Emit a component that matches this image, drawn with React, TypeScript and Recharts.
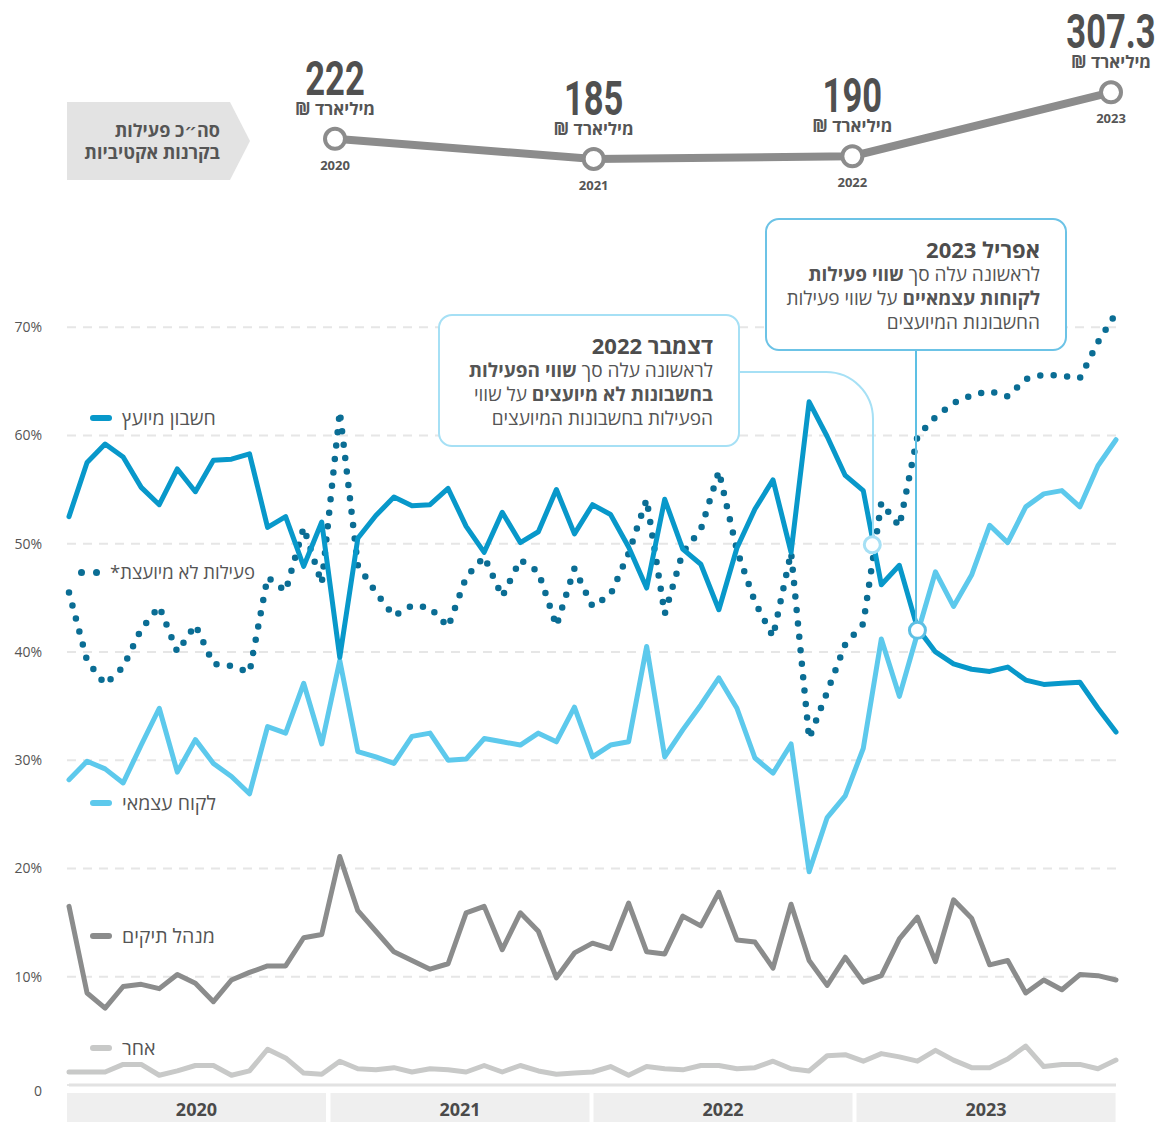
import React from 'react';
import { LineChart, Line, XAxis, YAxis, CartesianGrid, ReferenceDot } from 'recharts';

// share of activity by account type, one point per period
const advised = [52.5, 57.5, 59.2, 58.0, 55.2, 53.6, 56.9, 54.8, 57.7, 57.8, 58.3, 51.5, 52.5, 47.9, 52.0, 39.5, 50.5, 52.6, 54.3, 53.5, 53.6, 55.1, 51.6, 49.2, 52.9, 50.1, 51.1, 55.0, 50.9, 53.6, 52.7, 49.7, 45.9, 54.1, 49.5, 48.1, 43.9, 49.6, 53.2, 55.9, 49.2, 63.1, 59.9, 56.3, 54.9, 46.2, 48.0, 42.2, 40.0, 38.9, 38.4, 38.2, 38.6, 37.4, 37.0, 37.1, 37.2, 34.8, 32.6];
const nonAdvised = [45.5, 39.2, 37.0, 38.6, 42.1, 44.2, 40.0, 42.5, 38.9, 38.7, 38.1, 46.9, 45.6, 51.5, 46.3, 62.2, 48.0, 45.5, 43.3, 44.3, 44.1, 42.3, 46.9, 48.8, 45.1, 48.5, 47.4, 42.4, 47.7, 44.2, 45.3, 49.1, 54.1, 43.5, 49.2, 51.3, 56.7, 49.4, 44.6, 41.4, 49.2, 32.0, 36.3, 40.7, 42.6, 53.8, 51.6, 59.9, 61.7, 63.0, 63.7, 64.1, 63.6, 65.2, 65.6, 65.5, 65.3, 68.6, 71.3];
const independent = [28.2, 29.9, 29.2, 27.9, 31.4, 34.8, 28.9, 31.9, 29.7, 28.5, 26.9, 33.1, 32.5, 37.1, 31.5, 39.2, 30.8, 30.3, 29.7, 32.2, 32.5, 30.0, 30.1, 32.0, 31.7, 31.4, 32.5, 31.7, 34.9, 30.3, 31.4, 31.7, 40.5, 30.3, 32.8, 35.1, 37.6, 34.8, 30.2, 28.8, 31.5, 19.7, 24.7, 26.7, 31.1, 41.2, 35.9, 41.7, 47.4, 44.2, 47.1, 51.7, 50.1, 53.4, 54.6, 54.9, 53.4, 57.2, 59.6];
const portfolio = [16.5, 8.5, 7.1, 9.1, 9.3, 8.9, 10.2, 9.4, 7.7, 9.7, 10.4, 11.0, 11.0, 13.6, 13.9, 21.1, 16.1, 14.2, 12.3, 11.5, 10.7, 11.2, 15.9, 16.5, 12.5, 15.9, 14.2, 9.9, 12.2, 13.1, 12.6, 16.8, 12.3, 12.1, 15.6, 14.7, 17.8, 13.4, 13.2, 10.8, 16.7, 11.5, 9.2, 11.8, 9.5, 10.1, 13.5, 15.5, 11.4, 17.1, 15.4, 11.1, 11.5, 8.5, 9.7, 8.8, 10.2, 10.1, 9.7];
const other = [1.2, 1.2, 1.2, 1.9, 1.9, 0.9, 1.3, 1.8, 1.8, 0.9, 1.3, 3.3, 2.5, 1.1, 1.0, 2.2, 1.5, 1.4, 1.6, 1.2, 1.5, 1.4, 1.2, 1.8, 1.2, 1.8, 1.3, 1.0, 1.1, 1.2, 1.7, 0.9, 1.7, 1.5, 1.4, 1.8, 1.8, 1.5, 1.6, 2.2, 1.5, 1.3, 2.7, 2.8, 2.2, 2.9, 2.6, 2.2, 3.2, 2.3, 1.6, 1.6, 2.4, 3.6, 1.7, 1.9, 1.9, 1.5, 2.3];

const yearLabels = ['2020', '2021', '2022', '2023'];
const yearCenters = [7.06, 21.66, 36.23, 50.8];
const yTicks = [0, 10, 20, 30, 40, 50, 60, 70];

// total activity in active funds (billion NIS)
const totalYears = ['2020', '2021', '2022', '2023'];
const totalValues = [222, 185, 190, 307.3];
const totalLabels = ['222', '185', '190', '307.3'];

// crossing points marked by the callouts
const crossDec22 = { i: 44.5, v: 49.9 };
const crossApr23 = { i: 47, v: 42.0 };

const data = advised.map((v, i) => ({
    i,
    advised: v,
    nonAdvised: nonAdvised[i],
    independent: independent[i],
    portfolio: portfolio[i],
    other: other[i],
}));

const totals = totalValues.map((v, i) => ({ i, v }));

const FONT = '"Open Sans", "DejaVu Sans", sans-serif';
const TXT = '#555';

function YearTick(props: any) {
    const { x, y, payload } = props;
    const idx = yearCenters.indexOf(payload.value);
    return (
        <g>
            <rect x={x - 129.5} y={y + 8} width={259} height={30} fill="#efefef" />
            <text x={x} y={y + 31} textAnchor="middle" fontFamily={FONT} fontWeight={700} fontSize={18} fill="#4a4a4a">
                {yearLabels[idx]}
            </text>
        </g>
    );
}

function PctTick(props: any) {
    const { x, y, payload } = props;
    const v = payload.value;
    return (
        <text x={x} y={y + (v === 0 ? 6 : 0)} dy="0.35em" textAnchor="end" fontFamily={FONT} fontSize={14} fill={TXT}>
            {v === 0 ? '0' : `${v}%`}
        </text>
    );
}

// only the dashed lines at the labelled ticks, not the plot's top edge
function GridLine(p: any) {
    if (p.y1 < 300) return <g key={p.key} />;
    return <line key={p.key} x1={p.x1 - 2} y1={p.y1} x2={p.x2} y2={p.y2} stroke="#e6e6e6" strokeWidth={2} strokeDasharray="9 7" />;
}

function TotalDot(props: any) {
    const { cx, cy, index } = props;
    return (
        <g key={`t-${index}`}>
            <circle cx={cx} cy={cy} r={10} fill="#fff" stroke="#8c8c8c" strokeWidth={4} />
            <text
                transform={`translate(${cx},${cy - 44}) scale(0.72,1)`}
                textAnchor="middle"
                fontFamily="Roboto, sans-serif"
                fontWeight={700}
                fontSize={48}
                fill="#505050"
            >
                {totalLabels[index]}
            </text>
            <text x={cx} y={cy - 24} textAnchor="middle" direction="rtl" style={{ direction: 'rtl' }}
                fontFamily={FONT} fontWeight={700} fontSize={17} fill={TXT}>
                מיליארד ₪
            </text>
            <text x={cx} y={cy + 31} textAnchor="middle" fontFamily={FONT} fontWeight={700} fontSize={13} fill={TXT}>
                {totalYears[index]}
            </text>
        </g>
    );
}

function SeriesTag({ top, color, label, dotted }: { top: number; color: string; label: string; dotted?: boolean }) {
    return (
        <>
            {dotted ? (
                <>
                    <div style={{ position: 'absolute', left: 78, top: top - 3.5, width: 7, height: 7, borderRadius: 4, background: color }} />
                    <div style={{ position: 'absolute', left: 93, top: top - 3.5, width: 7, height: 7, borderRadius: 4, background: color }} />
                </>
            ) : (
                <div style={{ position: 'absolute', left: 90, top: top - 3, width: 22, height: 6, borderRadius: 3, background: color }} />
            )}
            <div dir="rtl" style={{
                position: 'absolute', left: dotted ? 110 : 122, top: top - 14, height: 28, lineHeight: '28px',
                fontFamily: FONT, fontSize: dotted ? 18.5 : 19.5, color: TXT, whiteSpace: 'nowrap',
            }}>
                {label}
            </div>
        </>
    );
}

function Callout({ left, top, border, title, lines }: { left: number; top: number; border: string; title: string; lines: React.ReactNode[] }) {
    return (
        <div dir="rtl" style={{
            position: 'absolute', left, top, width: 302, height: 133, boxSizing: 'border-box',
            border: `2px solid ${border}`, borderRadius: 14, background: '#fff',
            padding: '16px 25px 0 0', fontFamily: FONT, color: TXT, textAlign: 'right',
        }}>
            <div style={{ fontSize: 22, fontWeight: 700, lineHeight: '26px', color: '#4d4d4d' }}>{title}</div>
            {lines.map((l, k) => (
                <div key={k} style={{ fontSize: 19, lineHeight: '24px', whiteSpace: 'nowrap' }}>{l}</div>
            ))}
        </div>
    );
}

export default function App() {
    return (
        <div style={{ position: 'relative', width: 1156, height: 1122, background: '#fff', overflow: 'hidden' }}>
            <style>{'body{margin:0}'}</style>

            <div style={{ position: 'absolute', left: 0, top: 0 }}>
                <LineChart width={1156} height={1122} data={data} margin={{ top: 273, right: 40, bottom: 0, left: 14 }}>
                    <CartesianGrid vertical={false} horizontal={GridLine} />
                    <XAxis
                        dataKey="i"
                        type="number"
                        domain={[0, 58]}
                        ticks={yearCenters}
                        tick={<YearTick />}
                        tickLine={false}
                        tickSize={0}
                        tickMargin={0}
                        height={37}
                        axisLine={{ stroke: '#e2e2e2', strokeWidth: 3 }}
                        interval={0}
                    />
                    <YAxis
                        type="number"
                        domain={[0, 75]}
                        ticks={yTicks}
                        width={55}
                        axisLine={false}
                        tickLine={false}
                        tickSize={0}
                        tickMargin={27}
                        tick={<PctTick />}
                    />
                    <Line dataKey="other" stroke="#c8c9c8" strokeWidth={5} dot={false} type="linear"
                        strokeLinejoin="round" strokeLinecap="round" isAnimationActive={false} />
                    <Line dataKey="portfolio" stroke="#8b8c8c" strokeWidth={5} dot={false} type="linear"
                        strokeLinejoin="round" strokeLinecap="round" isAnimationActive={false} />
                    <Line dataKey="independent" stroke="#5dc9ec" strokeWidth={5} dot={false} type="linear"
                        strokeLinejoin="round" strokeLinecap="round" isAnimationActive={false} />
                    <Line dataKey="nonAdvised" stroke="#0a6d94" strokeWidth={6.5} dot={false} type="linear"
                        strokeDasharray="0 13.5" strokeLinecap="round" isAnimationActive={false} />
                    <Line dataKey="advised" stroke="#0898ca" strokeWidth={5} dot={false} type="linear"
                        strokeLinejoin="round" strokeLinecap="round" isAnimationActive={false} />
                    <ReferenceDot x={crossDec22.i} y={crossDec22.v} r={8} fill="#fff" stroke="#a6e0f5" strokeWidth={3} />
                    <ReferenceDot x={crossApr23.i} y={crossApr23.v} r={8} fill="#fff" stroke="#5dc0e4" strokeWidth={3} />
                </LineChart>
            </div>

            <div style={{ position: 'absolute', left: 0, top: 0 }}>
                <LineChart width={1156} height={200} data={totals} margin={{ top: 80, right: 45, bottom: 22, left: 335 }}>
                    <XAxis dataKey="i" type="number" domain={[0, 3]} hide />
                    <YAxis type="number" domain={[150, 330]} hide />
                    <Line dataKey="v" stroke="#8c8c8c" strokeWidth={8} type="linear" dot={<TotalDot />}
                        isAnimationActive={false} />
                </LineChart>
            </div>

            <svg width={1156} height={1122} style={{ position: 'absolute', left: 0, top: 0, pointerEvents: 'none' }}>
                <polygon points="67,102 230,102 250,141 230,180 67,180" fill="#e3e3e3" />
                <path d="M740 372 H826 A47 47 0 0 1 873 419 V537" fill="none" stroke="#a6e0f5" strokeWidth={2} />
                <path d="M916 351 V622" fill="none" stroke="#5dc0e4" strokeWidth={2} />
            </svg>

            <div dir="rtl" style={{
                position: 'absolute', right: 1156 - 220, top: 119, fontFamily: FONT, fontWeight: 700,
                fontSize: 18, lineHeight: '22px', color: TXT, textAlign: 'right', whiteSpace: 'nowrap',
            }}>
                <div>סה״כ פעילות</div>
                <div>בקרנות אקטיביות</div>
            </div>

            <SeriesTag top={418} color="#0898ca" label="חשבון מיועץ" />
            <SeriesTag top={572} color="#0a6d94" label="פעילות לא מיועצת*" dotted />
            <SeriesTag top={803} color="#5dc9ec" label="לקוח עצמאי" />
            <SeriesTag top={936} color="#8b8c8c" label="מנהל תיקים" />
            <SeriesTag top={1048} color="#c8c9c8" label="אחר" />

            <Callout
                left={438}
                top={314}
                border="#a6e0f5"
                title="דצמבר 2022"
                lines={[
                    <>לראשונה עלה סך <b>שווי הפעילות</b></>,
                    <><b>בחשבונות לא מיועצים</b> על שווי</>,
                    <>הפעילות בחשבונות המיועצים</>,
                ]}
            />
            <Callout
                left={765}
                top={218}
                border="#6cc3e6"
                title="אפריל 2023"
                lines={[
                    <>לראשונה עלה סך <b>שווי פעילות</b></>,
                    <><b>לקוחות עצמאיים</b> על שווי פעילות</>,
                    <>החשבונות המיועצים</>,
                ]}
            />
        </div>
    );
}
